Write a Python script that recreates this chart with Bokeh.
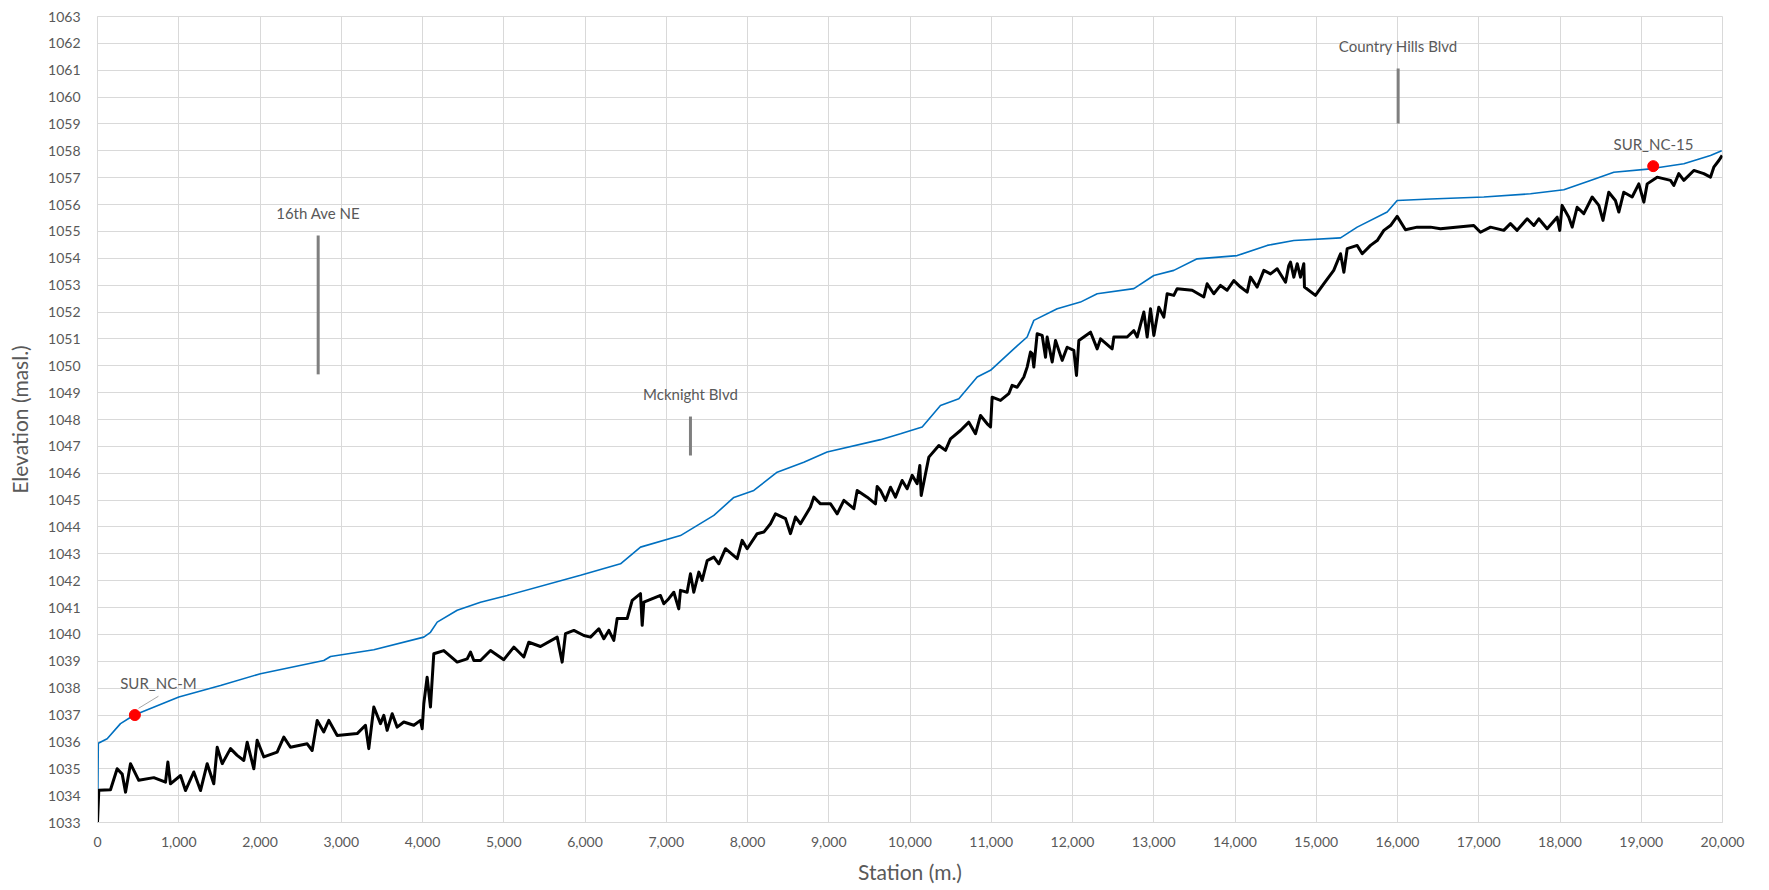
from bokeh.plotting import figure
from bokeh.models import NumeralTickFormatter, FixedTicker, Range1d
from bokeh.core.properties import value
from bokeh.embed import file_html
from bokeh.resources import INLINE

# ---------------- data ----------------
x_ticks = list(range(0, 20001, 1000))
y_ticks = list(range(1033, 1064))

# Blue line (upper profile)
blue_x = [0, 10, 119, 283, 447, 1001, 1514, 2006, 2785, 2868, 3401, 4016, 4098, 4181,
          4427, 4714, 5042, 5945, 6437, 6683, 7175, 7586, 7832, 8078, 8365, 8693, 8980,
          9637, 9883, 10150, 10375, 10601, 10827, 10991, 11278, 11442, 11524, 11812,
          12098, 12304, 12755, 13001, 13247, 13534, 14027, 14396, 14724, 15299, 15504,
          15873, 15996, 16406, 17062, 17637, 18047, 18375, 18662, 19114, 19524, 19852, 19990]
blue_y = [1032.5, 1035.95, 1036.12, 1036.68, 1036.99, 1037.67, 1038.1, 1038.54, 1039.03,
          1039.18, 1039.43, 1039.9, 1040.08, 1040.46, 1040.9, 1041.2, 1041.45, 1042.2,
          1042.63, 1043.25, 1043.68, 1044.43, 1045.1, 1045.36, 1046.04, 1046.41, 1046.79,
          1047.25, 1047.47, 1047.72, 1048.52, 1048.77, 1049.58, 1049.83, 1050.63, 1051.07,
          1051.69, 1052.12, 1052.37, 1052.68, 1052.87, 1053.36, 1053.55, 1053.98, 1054.1,
          1054.48, 1054.66, 1054.76, 1055.16, 1055.72, 1056.15, 1056.21, 1056.28, 1056.4,
          1056.55, 1056.9, 1057.2, 1057.33, 1057.52, 1057.83, 1058.0]

# Black line (lower profile)
black_x = [0, 16, 160, 242, 304, 345, 406, 508, 693, 837, 866, 898, 1022, 1083, 1185, 1268,
           1350, 1431, 1473, 1535, 1637, 1719, 1801, 1842, 1924, 1965, 2047, 2211, 2293,
           2375, 2581, 2642, 2704, 2785, 2847, 2950, 3196, 3298, 3339, 3401, 3483, 3524,
           3565, 3627, 3688, 3770, 3893, 3975, 3996, 4016, 4057, 4098, 4139, 4262, 4427,
           4550, 4591, 4632, 4714, 4837, 5001, 5124, 5247, 5308, 5452, 5658, 5719, 5760,
           5863, 5986, 6068, 6170, 6232, 6293, 6355, 6396, 6519, 6581, 6683, 6704, 6724,
           6929, 6970, 7031, 7093, 7154, 7175, 7257, 7298, 7339, 7401, 7442, 7504, 7586,
           7647, 7729, 7873, 7934, 7996, 8119, 8201, 8283, 8345, 8468, 8529, 8591, 8652,
           8775, 8816, 8898, 9022, 9104, 9186, 9309, 9350, 9473, 9575, 9596,
           9637, 9698, 9760, 9821, 9903, 9965, 10027, 10088, 10121, 10138, 10191, 10232,
           10355, 10437, 10498, 10621, 10724, 10806, 10868, 10950, 10991, 11011, 11114,
           11216, 11257, 11319, 11401, 11442, 11483, 11504, 11524, 11565, 11627, 11668,
           11688, 11750, 11791, 11873, 11934, 12016, 12049, 12078, 12222, 12304, 12345,
           12488, 12509, 12673, 12755, 12796, 12878, 12919, 12960, 13001, 13062, 13124,
           13165, 13247, 13288, 13473, 13616, 13657, 13739, 13821, 13903, 13985, 14068,
           14150, 14191, 14273, 14355, 14437, 14519, 14622, 14662,
           14683, 14724, 14766, 14806, 14847, 14855, 14990, 15092, 15215, 15299, 15340,
           15381, 15504, 15566, 15668, 15750, 15832, 15914, 15996, 16098, 16242, 16406,
           16529, 16652, 16939, 17021, 17145, 17308, 17390, 17472, 17596, 17678, 17739,
           17842, 17965, 17997, 18026, 18108, 18150, 18211, 18293, 18396, 18478, 18529,
           18600, 18682, 18724, 18785, 18888, 18970, 19032, 19073, 19196, 19360, 19401,
           19462, 19524, 19647, 19770, 19852, 19893, 19955, 19996]
black_y = [1033.0, 1034.2, 1034.22, 1035.0, 1034.8, 1034.13, 1035.19, 1034.57, 1034.67,
           1034.5, 1035.25, 1034.44, 1034.75, 1034.19, 1034.88, 1034.19, 1035.19, 1034.44,
           1035.8, 1035.19, 1035.75, 1035.5, 1035.31, 1035.99, 1035.0, 1036.06, 1035.44,
           1035.62, 1036.18, 1035.8, 1035.93, 1035.68, 1036.8, 1036.37, 1036.8, 1036.24,
           1036.31, 1036.62, 1035.75, 1037.3, 1036.68, 1036.99, 1036.43, 1037.05, 1036.55,
           1036.74, 1036.62, 1036.8, 1036.49, 1037.42, 1038.41, 1037.3, 1039.28, 1039.4,
           1038.97, 1039.09, 1039.34, 1039.03, 1039.03, 1039.4, 1039.06, 1039.53, 1039.16,
           1039.71, 1039.55, 1039.9, 1038.97, 1040.03, 1040.15, 1039.96, 1039.9, 1040.21,
           1039.84, 1040.15, 1039.78, 1040.59, 1040.59, 1041.27, 1041.52, 1040.34, 1041.2,
           1041.45, 1041.14, 1041.33, 1041.57, 1040.95, 1041.64, 1041.57, 1042.26, 1041.57,
           1042.32, 1042.01, 1042.75, 1042.88, 1042.63, 1043.19, 1042.82, 1043.5, 1043.19,
           1043.75, 1043.81, 1044.12, 1044.49, 1044.31, 1043.75, 1044.37, 1044.12, 1044.74,
           1045.11, 1044.86, 1044.86, 1044.49, 1044.99, 1044.68, 1045.36, 1045.11, 1044.86,
           1045.51,
           1045.36, 1044.99, 1045.48, 1045.11, 1045.73, 1045.42, 1045.92, 1045.61, 1046.29,
           1045.17, 1045.98, 1046.6, 1047.03, 1046.85, 1047.28, 1047.59, 1047.9, 1047.47,
           1048.15, 1047.84, 1047.72, 1048.83, 1048.71, 1048.96, 1049.27, 1049.2, 1049.58,
           1049.95, 1050.51, 1050.45, 1049.95, 1051.19, 1051.13, 1050.32, 1051.07, 1050.14,
           1050.94, 1050.2, 1050.69, 1050.57, 1049.64, 1050.94, 1051.25, 1050.63, 1051.0,
           1050.63, 1051.07, 1051.07, 1051.31, 1051.07, 1052.0, 1051.07, 1052.12, 1051.13,
           1052.18, 1051.81, 1052.68, 1052.62, 1052.87, 1052.81, 1052.56, 1053.05, 1052.68,
           1052.99, 1052.81, 1053.17, 1052.93, 1052.74, 1053.3, 1052.93, 1053.55, 1053.42,
           1053.61, 1053.11, 1053.73,
           1053.86, 1053.3, 1053.8, 1053.3, 1053.8, 1052.93, 1052.62, 1053.05, 1053.55,
           1054.17, 1053.48, 1054.36, 1054.48, 1054.17, 1054.48, 1054.66, 1055.04, 1055.22,
           1055.56, 1055.06, 1055.16, 1055.16, 1055.1, 1055.14, 1055.22, 1054.97, 1055.16,
           1055.04, 1055.29, 1055.04, 1055.47, 1055.22, 1055.47, 1055.1, 1055.53, 1055.04,
           1055.97, 1055.53, 1055.16, 1055.9, 1055.66, 1056.28, 1055.97, 1055.41, 1056.46,
           1056.15, 1055.72, 1056.46, 1056.28, 1056.77, 1056.09, 1056.77, 1057.02, 1056.9,
           1056.71, 1057.15, 1056.9, 1057.27, 1057.15, 1057.02, 1057.39, 1057.64, 1057.83]

# Road crossings
road_names = ["16th Ave NE", "Mcknight Blvd", "Country Hills Blvd"]
road_station = [2716, 7298, 16008]
road_bar_low = [1049.68, 1046.66, 1059.02]
road_bar_high = [1054.85, 1048.11, 1061.06]

# Survey points
point_names = ["SUR_NC-M", "SUR_NC-15"]
point_x = [460, 19147]
point_y = [1037.0, 1057.43]

# ---------------- figure ----------------
FONT = "Lato"
GREY_TXT = "#595959"
GRID = "#D9D9D9"

p = figure(width=1760, height=888, output_backend="svg", toolbar_location=None,
           x_range=Range1d(0, 20000), y_range=Range1d(1033, 1063),
           min_border_left=97, min_border_right=38, min_border_top=16, min_border_bottom=66)
p.background_fill_color = "white"
p.border_fill_color = "white"
p.outline_line_color = GRID

p.xaxis.ticker = FixedTicker(ticks=x_ticks)
p.yaxis.ticker = FixedTicker(ticks=y_ticks)
p.xaxis.formatter = NumeralTickFormatter(format="0,0")
p.grid.grid_line_color = GRID
p.grid.grid_line_width = 1
p.axis.axis_line_color = GRID
p.axis.major_tick_line_color = None
p.axis.minor_tick_line_color = None
p.axis.major_label_text_font = FONT
p.axis.major_label_text_font_size = "14px"
p.axis.major_label_text_color = GREY_TXT
p.xaxis.major_label_standoff = 8
p.yaxis.major_label_standoff = 11

p.xaxis.axis_label = "Station (m.)"
p.yaxis.axis_label = "Elevation (masl.)"
p.axis.axis_label_text_font = FONT
p.axis.axis_label_text_font_size = "21px"
p.axis.axis_label_text_font_style = "normal"
p.axis.axis_label_text_color = GREY_TXT
p.xaxis.axis_label_standoff = 9
p.yaxis.axis_label_standoff = 13

# lines
p.line(blue_x, blue_y, line_color="#0070C0", line_width=1.6)
p.line(black_x, black_y, line_color="black", line_width=3, line_join="round")

# road markers
p.segment(x0=road_station, y0=road_bar_low, x1=road_station, y1=road_bar_high,
          line_color="#7F7F7F", line_width=3)
p.text(x=road_station, y=[h + 0.83 for h in road_bar_high], text=road_names,
       text_font=value(FONT), text_font_size="15px", text_color=GREY_TXT,
       text_align="center", text_baseline="middle")

# survey points
p.segment(x0=[point_x[0] + 45], y0=[point_y[0] + 0.25], x1=[point_x[0] + 290],
          y1=[point_y[0] + 0.7], line_color="#A6A6A6", line_width=1)
p.scatter(point_x, point_y, size=11, fill_color="#FF0000", line_color="#FF0000")
p.text(x=[point_x[0] + 290, point_x[1] + 3], y=[point_y[0] + 1.2, point_y[1] + 0.84],
       text=point_names, text_font=value(FONT), text_font_size="15px",
       text_color=GREY_TXT, text_align="center", text_baseline="middle")

open("out.html", "w").write(file_html(p, INLINE))
